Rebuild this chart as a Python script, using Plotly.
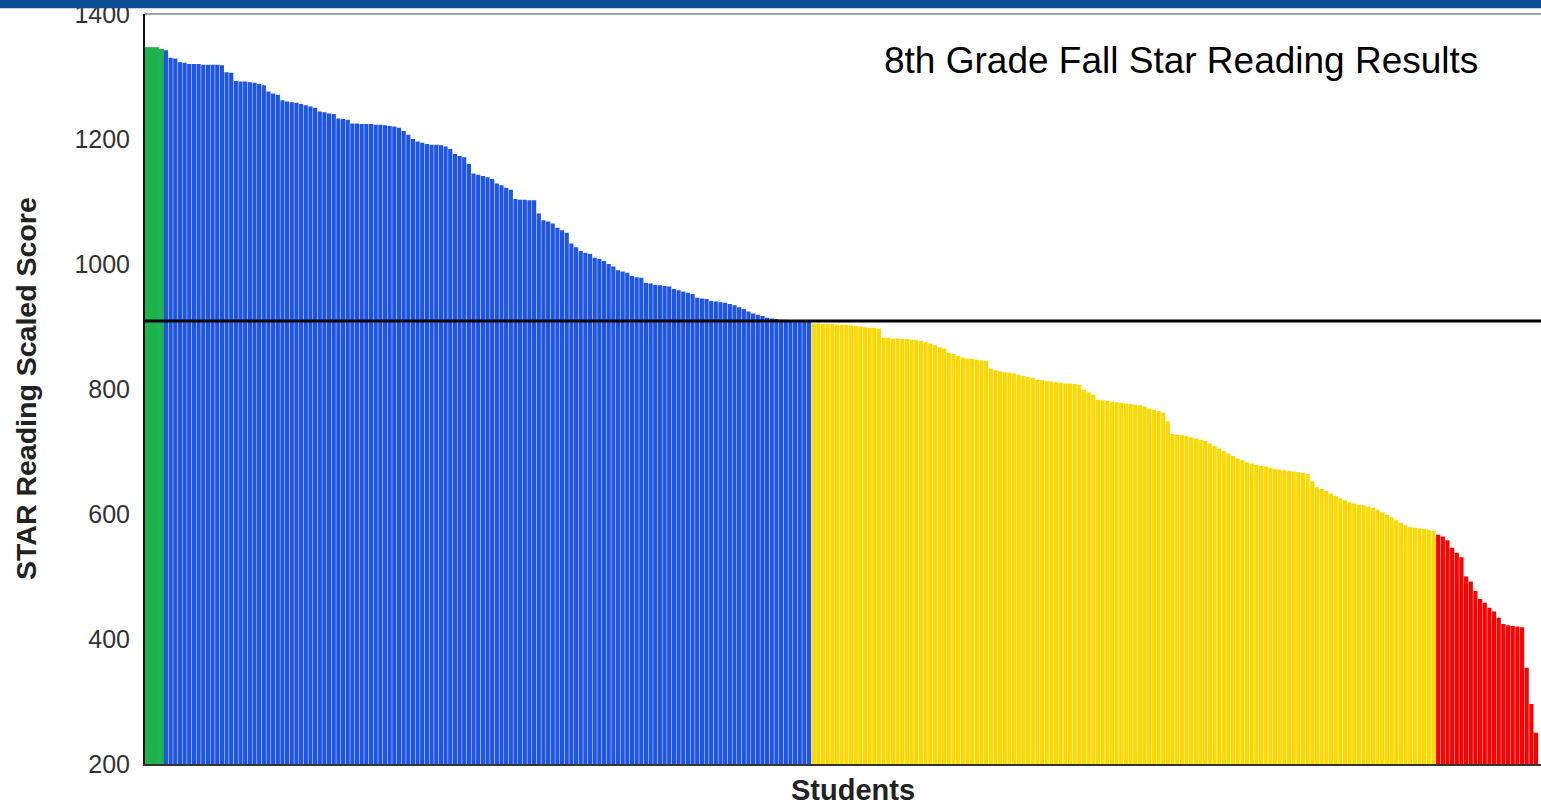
import plotly.graph_objects as go

# ---- data ----
green_scores = [1346, 1346, 1346, 1343]
blue_scores = [
    1342, 1330, 1329, 1323, 1322,
    1320, 1320, 1320, 1319, 1319, 1319, 1319, 1318,
    1307, 1306,
    1293, 1292, 1292, 1291, 1290,
    1288, 1286,
    1276, 1273, 1271,
    1262, 1260, 1259, 1258, 1256, 1254, 1252, 1250,
    1244, 1243, 1241, 1240,
    1233, 1232, 1231,
    1225, 1225, 1224, 1224, 1224, 1223, 1223, 1222, 1221, 1220, 1218,
    1213, 1207, 1200, 1196, 1194, 1192,
    1191, 1191, 1190,
    1188, 1184,
    1176, 1173, 1171,
    1160,
    1145, 1143, 1141, 1139, 1136,
    1129, 1126, 1122, 1119,
    1104, 1103, 1103, 1102, 1102,
    1081,
    1070, 1068, 1065,
    1058, 1054, 1050,
    1033, 1027,
    1021, 1018, 1016,
    1010, 1008, 1005,
    1000, 996,
    990, 988, 986,
    981, 979, 978,
    970, 969,
    967, 966, 965, 964,
    960, 958, 956, 954, 952,
    946, 945, 944,
    941, 940, 939, 938,
    936, 934, 931, 928,
    924, 921, 919, 917,
    914, 913, 912, 911, 911, 910, 910, 910, 909, 909,
]
yellow_scores = [
    905, 905, 904, 904, 904, 903, 903, 903,
    902, 901, 900, 899, 898, 898, 897,
    882, 882, 881, 881, 880, 880, 879, 879,
    877, 875, 873, 870, 867, 865,
    858, 856, 853,
    850, 849, 848, 847, 846, 845,
    833, 830,
    828, 827, 826, 825, 823, 821, 819, 818,
    815, 814, 813, 812, 811, 810, 809, 809, 808, 807,
    799, 795, 791,
    783, 782, 781, 780, 779, 778, 777, 776, 775, 774, 772,
    769, 767, 765, 762,
    748,
    728, 727, 726, 725, 723, 721, 719, 717,
    713, 709, 705, 701, 697, 693,
    689, 686, 683,
    681, 679, 677, 676, 674, 672,
    671, 670, 669, 668, 667, 666, 664,
    652, 643,
    640, 637, 633, 629,
    625, 622, 619, 617,
    615, 614, 612, 610,
    607, 603, 599, 595,
    590, 586, 582, 579,
    578, 577, 576, 575, 573,
]
red_scores = [567, 564, 558, 546, 538, 531, 500, 492, 477, 464, 458,
              450, 444, 434, 424, 422, 421, 420, 419, 354, 296, 250]

benchmark = 909
y_ticks = [200, 400, 600, 800, 1000, 1200, 1400]
chart_title = "8th Grade Fall Star Reading Results"
x_title = "Students"
y_title = "STAR Reading Scaled Score"

groups = [
    (green_scores, "#1fb34e", 1.2),
    (blue_scores, "#1f55e6", 0),
    (yellow_scores, "#fdd803", 0),
    (red_scores, "#fe0000", 0),
]

fig = go.Figure()
start = 0
for vals, col, lw in groups:
    xs = list(range(start, start + len(vals)))
    fig.add_trace(go.Bar(x=xs, y=vals, marker_color=col,
                         marker_line=dict(width=lw, color=col),
                         showlegend=False, hoverinfo="y"))
    start += len(vals)

FONT = "Liberation Sans, Arial, Helvetica, sans-serif"
L, T, B, W, H = 145, 12, 44, 1541, 808
pw = W - L
ph = H - T - B

fig.update_layout(
    width=W, height=H,
    margin=dict(l=L, r=0, t=T, b=B, pad=0),
    paper_bgcolor="white", plot_bgcolor="white",
    bargap=0.1,
    font=dict(family=FONT),
    xaxis=dict(range=[-0.5, -0.5 + pw / 4.66], showticklabels=False, ticks="",
               showgrid=False, zeroline=False, showline=True,
               linecolor="#333333", linewidth=1.5),
    yaxis=dict(range=[200, 1400], tickvals=y_ticks, showgrid=False, zeroline=False,
               showline=True, linecolor="#111111", linewidth=2, ticks="",
               tickfont=dict(size=25, color="#333333", family=FONT),
               ticklabelstandoff=8, ticklabeloverflow="allow"),
    shapes=[
        dict(type="line", xref="paper", yref="y", x0=0, x1=1, y0=benchmark, y1=benchmark,
             line=dict(color="black", width=3), layer="above"),
        dict(type="line", xref="paper", yref="paper", x0=0, x1=1, y0=1, y1=1,
             line=dict(color="#444444", width=1), layer="above"),
        dict(type="rect", xref="paper", yref="paper", x0=-0.2, x1=1.1,
             y0=1 + (T - 6.3) / ph, y1=1.05,
             fillcolor="#0c4e93", line=dict(width=0), layer="above"),
    ],
    annotations=[
        dict(text=chart_title, xref="paper", yref="paper",
             x=(882 - L) / pw, y=(H - B - 59) / ph, xanchor="left", yanchor="middle",
             showarrow=False, font=dict(size=37, color="black", family=FONT)),
        dict(text="<b>" + x_title + "</b>", xref="paper", yref="paper",
             x=(853 - L) / pw, y=(H - B - 790) / ph, xanchor="center", yanchor="middle",
             showarrow=False, font=dict(size=29, color="#222222", family=FONT)),
        dict(text="<b>" + y_title + "</b>", xref="paper", yref="paper",
             x=(26 - L) / pw, y=0.5, xanchor="center", yanchor="middle", textangle=-90,
             showarrow=False, font=dict(size=28.5, color="#222222", family=FONT)),
    ],
)

fig.write_html(
    "out.html",
    config={"displayModeBar": False},
    post_script="document.body.style.margin='0';document.body.style.overflow='hidden';",
)
